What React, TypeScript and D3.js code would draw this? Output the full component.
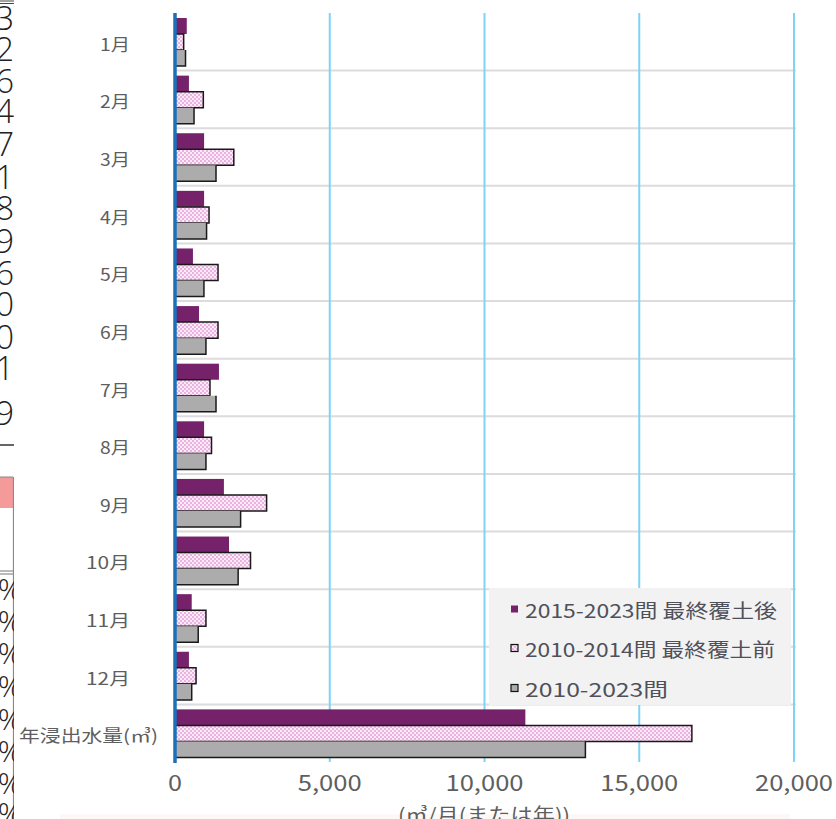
import React from "react";
import * as d3 from "d3";

const categories = ["1月", "2月", "3月", "4月", "5月", "6月", "7月", "8月", "9月", "10月", "11月", "12月", "年浸出水量(㎥)"];
const seriesNames = ["2015-2023間 最終覆土後", "2010-2014間 最終覆土前", "2010-2023間"];
const after2015 = [380, 450, 940, 940, 580, 775, 1420, 940, 1580, 1745, 540, 450, 11320];
const before2014 = [280, 915, 1900, 1100, 1390, 1390, 1130, 1180, 2960, 2440, 1000, 680, 16700];
const all2010 = [340, 615, 1325, 1020, 935, 1000, 1325, 1000, 2120, 2040, 750, 540, 13260];
const xTicks = [0, 5000, 10000, 15000, 20000];
const axisTitle = "(㎥/月(または年))";
const sideDigits = ["3", "2", "6", "4", "7", "1", "8", "9", "6", "0", "0", "1", "9"];
const sideDigitY = [17, 48, 80, 110, 143, 176, 207, 240, 272, 303, 336, 367, 412];
const sidePercentY = [588, 620, 652, 685, 718, 750, 782, 812];

const W = 836;
const H = 819;
const FONT = "'Noto Sans CJK JP', 'Noto Sans', sans-serif";
const PURPLE = "#76226b";
const GRAY = "#acacac";
const LABEL = "#5e5e5e";

export default function App() {
  const x = d3.scaleLinear().domain([0, 20000]).range([175, 794]);
  const y = d3.scaleBand<string>().domain(categories).range([13, 762]);
  const inner = d3
    .scaleBand<number>()
    .domain([0, 1, 2])
    .range([5, y.bandwidth() - 4.5]);
  const fmt = d3.format(",");
  const data = [after2015, before2014, all2010];
  const fills = [PURPLE, "url(#pinkCheck)", GRAY];

  const tickLen = (s: string) => {
    const digits = s.replace(/[^0-9]/g, "").length;
    const commas = s.length - digits;
    return digits * 14 + commas * 8;
  };
  const catLen = (c: string, i: number) => {
    if (i === 12) return 139;
    const digits = c.replace(/[^0-9]/g, "").length;
    return digits * 14 + 16;
  };
  const legendLen = [252, 250, 143];

  return (
    <svg
      width={W}
      height={H}
      viewBox={`0 0 ${W} ${H}`}
      style={{ position: "absolute", left: 0, top: 0, background: "#fff" }}
    >
      <defs>
        <pattern id="pinkCheck" width={4} height={4} patternUnits="userSpaceOnUse">
          <rect width={4} height={4} fill="#fbeaf7" />
          <rect x={0} y={0} width={2} height={2} fill="#eab3df" />
          <rect x={2} y={2} width={2} height={2} fill="#eab3df" />
        </pattern>
        <clipPath id="sideClip">
          <rect x={0} y={0} width={14} height={H} />
        </clipPath>
      </defs>

      {/* fragments of a neighbouring table at the left edge */}
      <g clipPath="url(#sideClip)">
        <line x1={0} x2={14} y1={1} y2={1} stroke="#444" strokeWidth={1} />
        <line x1={0} x2={14} y1={3.5} y2={3.5} stroke="#444" strokeWidth={1} />
        {sideDigits.map((d, i) => (
          <text
            key={"sd" + i}
            x={14}
            y={sideDigitY[i]}
            textAnchor="end"
            dominantBaseline="central"
            fontFamily="'Open Sans', 'DejaVu Sans', sans-serif"
            fontWeight={300}
            fontSize={33}
            fill="#222"
          >
            {d}
          </text>
        ))}
        <line x1={0} x2={14} y1={445} y2={445} stroke="#333" strokeWidth={1.5} />
        <rect x={0} y={477} width={13} height={31} fill="#f59a9a" />
        <line x1={0} x2={13} y1={477} y2={477} stroke="#888" strokeWidth={1} />
        <line x1={13.5} x2={13.5} y1={477} y2={H} stroke="#888" strokeWidth={1.2} />
        <line x1={0} x2={13} y1={571} y2={571} stroke="#777" strokeWidth={1} />
        <line x1={0} x2={13} y1={574} y2={574} stroke="#777" strokeWidth={1} />
        {sidePercentY.map((py, i) => (
          <text
            key={"sp" + i}
            x={22}
            y={py}
            textAnchor="end"
            dominantBaseline="central"
            fontFamily="'Open Sans', 'DejaVu Sans', sans-serif"
            fontWeight={300}
            fontSize={30}
            fill="#222"
          >
            %
          </text>
        ))}
      </g>

      {/* faint band at the bottom */}
      <rect x={60} y={814} width={730} height={5} fill="#fdf8f5" />

      {/* horizontal separators */}
      {categories.slice(1).map((c) => (
        <line
          key={"sep" + c}
          x1={175}
          x2={796}
          y1={y(c)!}
          y2={y(c)!}
          stroke="#dcdcdc"
          strokeWidth={2}
        />
      ))}

      {/* vertical gridlines */}
      {xTicks.slice(1).map((t) => (
        <line
          key={"g" + t}
          x1={x(t)}
          x2={x(t)}
          y1={13}
          y2={762}
          stroke="#7fd3f7"
          strokeWidth={2}
        />
      ))}

      {/* bars */}
      {categories.map((c, ci) => (
        <g key={"bars" + ci}>
          {data.map((arr, si) => {
            const top = y(c)! + inner(si)!;
            const h = inner.bandwidth();
            const x0 = x(0);
            const x1 = x(arr[ci]);
            return (
              <g key={"b" + si}>
                <rect x={x0} y={top} width={x1 - x0} height={h} fill={fills[si]} />
                {si === 1 && (
                  <path
                    d={`M${x0},${top} H${x1} V${top + h} H${x0}`}
                    fill="none"
                    stroke="#1a1a1a"
                    strokeWidth={1.5}
                  />
                )}
                {si === 2 && (
                  <path
                    d={`M${x1},${top} V${top + h} H${x0}`}
                    fill="none"
                    stroke="#1a1a1a"
                    strokeWidth={1.5}
                  />
                )}
              </g>
            );
          })}
        </g>
      ))}

      {/* legend */}
      <rect x={489} y={588} width={302} height={117} fill="#f2f2f2" />
      {seriesNames.map((s, i) => {
        const ly = [609, 648, 688][i];
        return (
          <g key={"lg" + i}>
            <rect
              x={511}
              y={ly - 3.5}
              width={7}
              height={7}
              fill={fills[i]}
              stroke={i === 0 ? "none" : "#111"}
              strokeWidth={i === 0 ? 0 : 1.2}
            />
            <text
              x={525}
              y={ly}
              dominantBaseline="central"
              fontFamily={FONT}
              fontSize={19}
              fill="#50505a"
              textLength={legendLen[i]}
              lengthAdjust="spacingAndGlyphs"
            >
              {s}
            </text>
          </g>
        );
      })}

      {/* y axis line */}
      <line x1={175} x2={175} y1={13} y2={763} stroke="#1c6fb9" strokeWidth={3.5} />

      {/* category labels */}
      {categories.map((c, i) => (
        <text
          key={"cl" + i}
          x={i === 12 ? 158 : 130}
          y={y(c)! + y.bandwidth() / 2 + 1.5}
          textAnchor="end"
          dominantBaseline="central"
          fontFamily={FONT}
          fontSize={17}
          fill={LABEL}
          textLength={catLen(c, i)}
          lengthAdjust="spacingAndGlyphs"
        >
          {c}
        </text>
      ))}

      {/* x tick labels */}
      {xTicks.map((t) => {
        const s = fmt(t);
        return (
          <text
            key={"t" + t}
            x={x(t)}
            y={781}
            textAnchor="middle"
            dominantBaseline="central"
            fontFamily={FONT}
            fontSize={22}
            fill={LABEL}
            textLength={tickLen(s)}
            lengthAdjust="spacingAndGlyphs"
          >
            {s}
          </text>
        );
      })}

      {/* axis title */}
      <text
        x={484}
        y={813}
        textAnchor="middle"
        dominantBaseline="central"
        fontFamily={FONT}
        fontSize={19}
        fill={LABEL}
        textLength={172}
        lengthAdjust="spacingAndGlyphs"
      >
        {axisTitle}
      </text>
    </svg>
  );
}
